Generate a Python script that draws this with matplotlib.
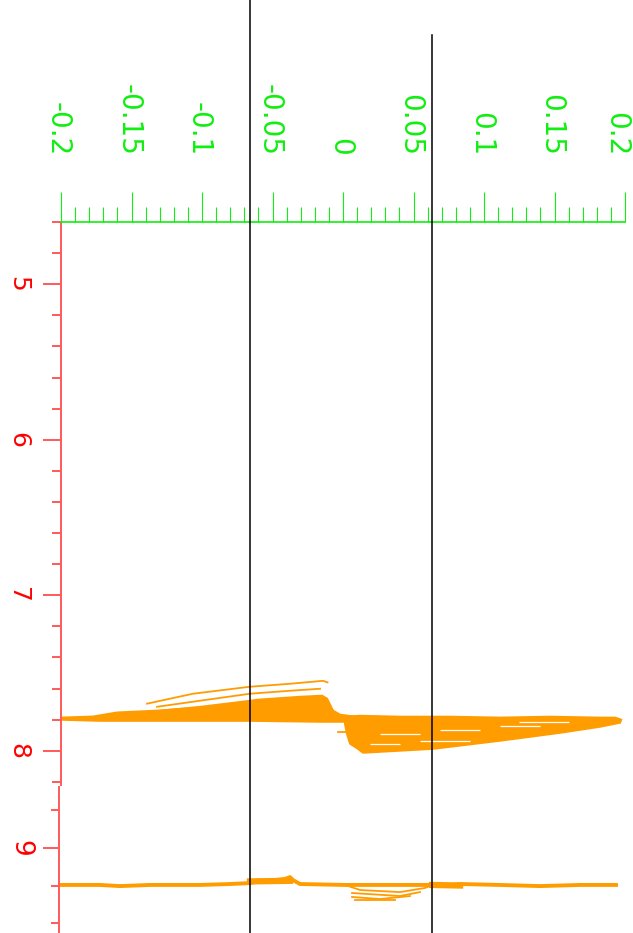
import matplotlib.pyplot as plt
from matplotlib.ticker import MultipleLocator
from matplotlib.transforms import ScaledTranslation

orange = '#ff9c00'
green = '#11ee11'
red = '#ff0000'
red_axis = '#ff5a5a'

# upper panel: dense left lobe (outline)
lobe_left_x = [-0.2, -0.1773, -0.1603, -0.1298, -0.0943, -0.0709, -0.0610, -0.0305, -0.0149,
               -0.0113, -0.0092, -0.0071, -0.0021, 0.0085, 0.0085, -0.0163, -0.0660, -0.1369,
               -0.1723, -0.2]
lobe_left_y = [7.787, 7.780, 7.754, 7.741, 7.717, 7.691, 7.672, 7.653, 7.646,
               7.665, 7.704, 7.742, 7.768, 7.781, 7.813, 7.813, 7.807, 7.807,
               7.807, 7.800]

# thin branches above the left lobe
branch_a_x = [-0.139, -0.1064, -0.066, -0.0376, -0.0142, -0.0110]
branch_a_y = [7.697, 7.633, 7.588, 7.569, 7.550, 7.560]
branch_b_x = [-0.1319, -0.1014, -0.066, -0.0376, -0.0163]
branch_b_y = [7.717, 7.678, 7.633, 7.614, 7.601]
branch_c_x = [-0.1298, -0.1014, -0.066, -0.0376, -0.0142]
branch_c_y = [7.742, 7.717, 7.678, 7.665, 7.665]

# dense right lobe (outline)
lobe_right_x = [0.0014, 0.0121, 0.0404, 0.0759, 0.1113, 0.1468, 0.1823, 0.1929, 0.1972,
                0.1965, 0.1823, 0.1539, 0.1113, 0.0638, 0.0404, 0.0142, 0.0106, 0.0050,
                0.0028, 0.0014]
lobe_right_y = [7.781, 7.775, 7.781, 7.781, 7.787, 7.781, 7.787, 7.787, 7.800,
                7.819, 7.845, 7.884, 7.935, 7.987, 7.999, 8.012, 7.987, 7.954,
                7.890, 7.826]
stray_x = [-0.0035, 0.0085]
stray_y = [7.877, 7.877]

# short gaps inside the right lobe (start x, end x, y)
gap_x0 = [0.0262, 0.0688, 0.1113, 0.0191, 0.0546, 0.1250]
gap_x1 = [0.0546, 0.0972, 0.1397, 0.0404, 0.0901, 0.1600]
gap_y = [7.890, 7.865, 7.839, 7.954, 7.935, 7.815]

# lower panel trace
lower_x = [-0.2, -0.1723, -0.1582, -0.1369, -0.1014, -0.0801, -0.066, -0.0589, -0.0482,
           -0.0411, -0.0376, -0.0355, -0.0305, 0.0014, 0.0404, 0.0631, 0.0688, 0.083,
           0.1113, 0.1397, 0.1681, 0.1936]
lower_y = [9.197, 9.197, 9.203, 9.197, 9.197, 9.192, 9.187, 9.176, 9.171,
           9.165, 9.155, 9.171, 9.192, 9.197, 9.197, 9.197, 9.203, 9.192,
           9.197, 9.203, 9.197, 9.197]
loop1_x = [0.0014, 0.0121, 0.0404, 0.0582, 0.0631]
loop1_y = [9.197, 9.224, 9.235, 9.213, 9.197]
loop2_x = [0.0064, 0.0404, 0.0546]
loop2_y = [9.240, 9.256, 9.235]
loop3_x = [0.0064, 0.0262, 0.0475]
loop3_y = [9.261, 9.272, 9.256]
loop4_x = [0.0085, 0.0369]
loop4_y = [9.277, 9.277]

# reference lines
marker_x = [-0.066, 0.063]
marker_top = [1.394, 1.332]

fig = plt.figure(figsize=(6.33, 9.33), dpi=100)
ax = fig.add_axes([0.0964, 0.1586, 0.891, 0.6035], facecolor='none')
ax2 = fig.add_axes([0.0932, 0.0, 0.8942, 0.1565], facecolor='none')
ax.set_zorder(2)

# upper panel
ax.fill(lobe_left_x, lobe_left_y, color=orange, lw=1.5)
ax.fill(lobe_right_x, lobe_right_y, color=orange, lw=1.5)
for bx, by in [(branch_a_x, branch_a_y), (branch_b_x, branch_b_y), (branch_c_x, branch_c_y)]:
    ax.plot(bx, by, color=orange, lw=1.3)
ax.plot(stray_x, stray_y, color=orange, lw=1.3)
ax.hlines(gap_y, gap_x0, gap_x1, color='white', lw=0.9)

ax.set_xlim(-0.2, 0.2)
ax.set_ylim(8.22, 4.6)
ax.xaxis.set_ticks_position('top')
ax.xaxis.set_minor_locator(MultipleLocator(0.01))
ax.set_xticks([-0.2, -0.15, -0.1, -0.05, 0, 0.05, 0.1, 0.15, 0.2])
ax.set_xticklabels(['-0.2', '-0.15', '-0.1', '-0.05', '0', '0.05', '0.1', '0.15', '0.2'])
ax.tick_params(axis='x', which='major', direction='out', length=21.6, width=0.8,
               color=green, labelcolor=green, labelsize=20, labelrotation=-90, pad=26)
ax.tick_params(axis='x', which='minor', direction='out', length=10.8, width=0.8, color=green)
xlabels = ax.get_xticklabels()
for i, lab in enumerate(xlabels):
    dx = -9 if i == len(xlabels) - 1 else -3
    lab.set_transform(lab.get_transform() + ScaledTranslation(dx / 100, 0, fig.dpi_scale_trans))

ax.set_yticks([5, 6, 7, 8])
ax.set_yticklabels(['5', '6', '7', '8'])
ax.yaxis.set_minor_locator(MultipleLocator(0.2))
ax.tick_params(axis='y', which='major', length=13, width=1.4, color=red_axis,
               labelcolor=red, labelsize=18, labelrotation=-90, pad=9)
ax.tick_params(axis='y', which='minor', length=6.5, width=1.4, color=red_axis)
for lab in ax.get_yticklabels():
    lab.set_va('center')

ax.spines['right'].set_visible(False)
ax.spines['bottom'].set_visible(False)
ax.spines['top'].set_color(green)
ax.spines['top'].set_linewidth(1.2)
ax.spines['left'].set_color(red_axis)
ax.spines['left'].set_linewidth(1.4)

for mx, mt in zip(marker_x, marker_top):
    ax.plot([mx, mx], [mt, -0.263], color='black', lw=1.1, transform=ax.get_xaxis_transform(),
            clip_on=False, zorder=5)

# lower panel
ax2.plot(lower_x, lower_y, color=orange, lw=2.8)
ax2.plot([-0.066, -0.0376], [9.178, 9.175], color=orange, lw=4.5)
ax2.plot([0.0631, 0.083], [9.197, 9.200], color=orange, lw=4.5)
for lx, ly in [(loop1_x, loop1_y), (loop2_x, loop2_y), (loop3_x, loop3_y), (loop4_x, loop4_y)]:
    ax2.plot(lx, ly, color=orange, lw=1.3)

ax2.set_xlim(-0.20142, 0.2)
ax2.set_ylim(9.453, 8.675)
ax2.set_xticks([])
ax2.set_yticks([9])
ax2.set_yticklabels(['9'])
ax2.yaxis.set_minor_locator(MultipleLocator(0.2))
ax2.tick_params(axis='y', which='major', length=11.5, width=1.4, color=red_axis,
                labelcolor=red, labelsize=19, labelrotation=-90, pad=7)
ax2.tick_params(axis='y', which='minor', length=5.8, width=1.4, color=red_axis)
for lab in ax2.get_yticklabels():
    lab.set_va('center')
for s in ['top', 'right', 'bottom']:
    ax2.spines[s].set_visible(False)
ax2.spines['left'].set_color(red_axis)
ax2.spines['left'].set_linewidth(1.4)

fig.savefig('out.png', dpi=100)
